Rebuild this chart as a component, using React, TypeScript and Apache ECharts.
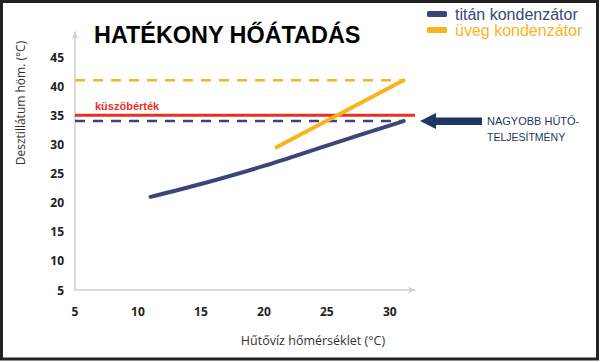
import React, { useEffect, useRef } from 'react';
import * as echarts from 'echarts';

// Data
const titanX = [11, 15, 20, 25, 31.1];
const titanY = [21, 23.2, 26.3, 29.8, 34];
const uvegX = [21, 31.1];
const uvegY = [29.5, 41];
const thresholdValue = 35;
const titanLimit = 34;
const uvegLimit = 41;
const xMin = 5;
const xMax = 32;
const yMin = 5;
const yMax = 49.3;
const seriesNames = ['titán kondenzátor', 'üveg kondenzátor'];

const NAVY = '#3d4577';
const YELLOW = '#f8b41e';
const RED = '#e8302a';
const ARROW = '#1e3764';

export default function App() {
  const ref = useRef<HTMLDivElement>(null);
  useEffect(() => {
    if (!ref.current) return;
    const chart = echarts.init(ref.current, null, { renderer: 'svg' });
    const titanData = titanX.map((x, i) => [x, titanY[i]]);
    const uvegData = uvegX.map((x, i) => [x, uvegY[i]]);
    const lastX = titanX[titanX.length - 1];
    chart.setOption({
      animation: false,
      backgroundColor: '#ffffff',
      grid: { left: 75, right: 185, top: 32, bottom: 72 },
      legend: {
        orient: 'vertical',
        left: 427,
        top: 6,
        padding: 0,
        itemWidth: 20,
        itemHeight: 6,
        itemGap: 0,
        icon: 'roundRect',
        textStyle: { fontFamily: 'Liberation Sans', fontSize: 16, lineHeight: 16, padding: [0, 0, 0, 3] },
        data: [
          { name: seriesNames[0], textStyle: { color: NAVY } },
          { name: seriesNames[1], textStyle: { color: YELLOW } },
        ],
      },
      xAxis: {
        type: 'value',
        min: xMin,
        max: xMax,
        interval: 5,
        axisLine: { show: true, symbol: ['none', 'arrow'], symbolSize: [5, 7], lineStyle: { color: '#cfcfcf', width: 1.5 } },
        axisTick: { show: false },
        splitLine: { show: false },
        axisLabel: {
          margin: 15,
          color: '#222',
          fontWeight: 'bold',
          fontFamily: 'Open Sans',
          fontSize: 12,
          formatter: (v: number) => (v % 5 === 0 ? String(v) : ''),
        },
      },
      yAxis: {
        type: 'value',
        min: yMin,
        max: yMax,
        interval: 5,
        axisLine: { show: true, symbol: ['none', 'arrow'], symbolSize: [5, 7], lineStyle: { color: '#cfcfcf', width: 1.5 } },
        axisTick: { show: false },
        splitLine: { show: false },
        axisLabel: {
          margin: 11,
          color: '#222',
          fontWeight: 'bold',
          fontFamily: 'Open Sans',
          fontSize: 12,
          formatter: (v: number) => (v % 5 === 0 ? String(v) : ''),
        },
      },
      series: [
        {
          name: 'titan-limit',
          type: 'line',
          data: [[xMin, titanLimit], [lastX, titanLimit]],
          showSymbol: false,
          silent: true,
          lineStyle: { color: NAVY, width: 2.5, type: [10, 8] },
          z: 2,
        },
        {
          name: 'uveg-limit',
          type: 'line',
          data: [[xMin, uvegLimit], [lastX, uvegLimit]],
          showSymbol: false,
          silent: true,
          lineStyle: { color: YELLOW, width: 2.5, type: [10, 8] },
          z: 2,
        },
        {
          name: 'küszöbérték',
          type: 'line',
          data: [[xMin, thresholdValue], [xMax, thresholdValue]],
          showSymbol: false,
          silent: true,
          lineStyle: { color: RED, width: 3 },
          z: 3,
        },
        {
          name: seriesNames[0],
          type: 'line',
          data: titanData,
          smooth: 0.3,
          showSymbol: false,
          color: NAVY,
          lineStyle: { color: NAVY, width: 4, cap: 'round' },
          z: 4,
        },
        {
          name: seriesNames[1],
          type: 'line',
          data: uvegData,
          showSymbol: false,
          color: YELLOW,
          lineStyle: { color: YELLOW, width: 4, cap: 'round' },
          z: 4,
        },
      ],
      graphic: [
        {
          type: 'rect',
          shape: { x: 1.5, y: 1.5, width: 596, height: 357.5 },
          style: { fill: 'none', stroke: '#222', lineWidth: 3 },
          silent: true,
        },
        {
          type: 'text',
          x: 94,
          y: 35,
          style: {
            text: 'HATÉKONY HŐÁTADÁS',
            fontFamily: 'Liberation Sans',
            fontWeight: 'bold',
            fontSize: 23.4,
            fill: '#000',
            textVerticalAlign: 'middle',
          },
        },
        {
          type: 'text',
          x: 95,
          y: 106,
          style: {
            text: 'küszöbérték',
            fontFamily: 'Liberation Sans',
            fontWeight: 'bold',
            fontSize: 11,
            fill: RED,
            textVerticalAlign: 'middle',
          },
        },
        {
          type: 'polygon',
          shape: {
            points: [
              [420, 121], [436, 113], [436, 117.5], [482, 117.5],
              [482, 125], [436, 125], [436, 129],
            ],
          },
          style: { fill: ARROW },
        },
        {
          type: 'text',
          x: 487,
          y: 121,
          style: {
            text: 'NAGYOBB HŰTŐ-',
            fontFamily: 'Liberation Sans',
            fontSize: 11,
            fill: ARROW,
            textVerticalAlign: 'middle',
          },
        },
        {
          type: 'text',
          x: 487,
          y: 137,
          style: {
            text: 'TELJESÍTMÉNY',
            fontFamily: 'Liberation Sans',
            fontSize: 10.5,
            fill: ARROW,
            textVerticalAlign: 'middle',
          },
        },
        {
          type: 'text',
          x: 313,
          y: 340,
          style: {
            text: 'Hűtővíz hőmérséklet (°C)',
            fontFamily: 'Open Sans',
            fontSize: 12.5,
            fill: '#333',
            textAlign: 'center',
            textVerticalAlign: 'middle',
          },
        },
        {
          type: 'text',
          x: 20,
          y: 103,
          rotation: Math.PI / 2,
          style: {
            text: 'Desztillátum höm. (°C)',
            fontFamily: 'Open Sans',
            fontSize: 12,
            fill: '#333',
            textAlign: 'center',
            textVerticalAlign: 'middle',
          },
        },
      ],
    });
    return () => chart.dispose();
  }, []);
  return (
    <div
      ref={ref}
      style={{ position: 'fixed', left: 0, top: 0, width: 600, height: 362, background: '#fff' }}
    />
  );
}
